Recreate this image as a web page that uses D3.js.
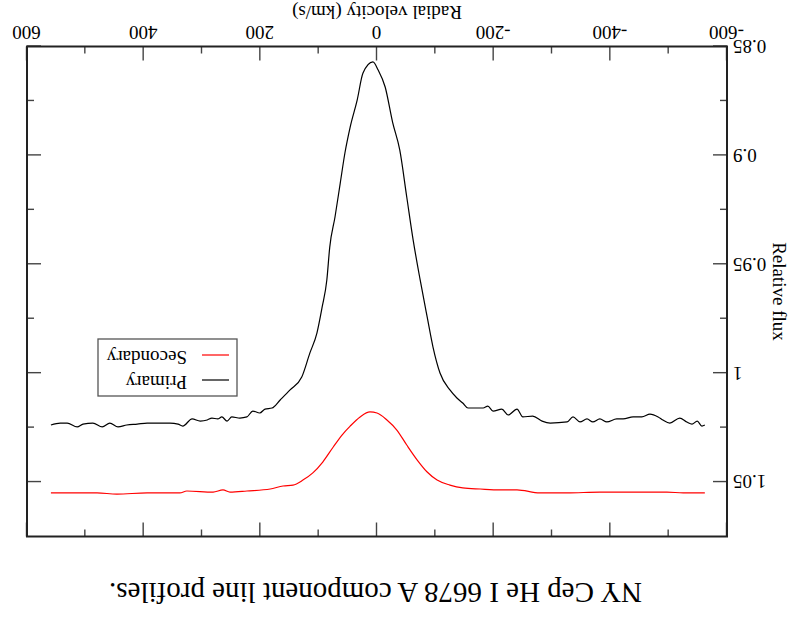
<!DOCTYPE html>
<html>
<head>
<meta charset="utf-8">
<script src="https://cdn.jsdelivr.net/npm/d3@7"></script>
<style>
html,body{margin:0;padding:0;background:#fff;}
svg{display:block;}
text{font-family:"Liberation Serif","Times New Roman",serif;fill:#000;}
</style>
</head>
<body>
<svg id="chart" width="789" height="617"></svg>
<script>
// ---- data (velocity km/s, relative flux) ----
const primaryVel = [559,543,531,514,504,487,471,458,444,429,411,394,377,355,341,333,317,303,291,283,273,266,257,249,235,223,213,201,192,180,166,149,129,115,103,94,86,81,72,63,55,46,34,24,7,-2,-14,-27,-39,-51,-62,-74,-86,-96,-108,-125,-137,-147,-156,-182,-190,-199,-214,-225,-240,-250,-267,-283,-297,-326,-336,-348,-360,-370,-382,-394,-411,-422,-439,-454,-468,-482,-490,-502,-519,-531,-540,-549,-557,-562];
const primaryFlux = [1.0238,1.0229,1.0229,1.0247,1.0234,1.0229,1.0247,1.0229,1.0247,1.0238,1.0234,1.0229,1.0229,1.0229,1.0234,1.0243,1.0210,1.0220,1.0215,1.0206,1.0210,1.0201,1.0220,1.0201,1.0206,1.0201,1.0174,1.0183,1.0165,1.0160,1.0123,1.0077,1.0018,0.9907,0.9816,0.9696,0.9572,0.9421,0.9283,0.9127,0.8989,0.8870,0.8746,0.8622,0.8571,0.8608,0.8686,0.8851,0.8975,0.9191,0.9389,0.9572,0.9742,0.9880,0.9999,1.0077,1.0114,1.0137,1.0160,1.0160,1.0151,1.0174,1.0165,1.0192,1.0165,1.0201,1.0197,1.0220,1.0229,1.0224,1.0201,1.0224,1.0210,1.0224,1.0210,1.0224,1.0210,1.0210,1.0201,1.0201,1.0188,1.0201,1.0215,1.0229,1.0206,1.0224,1.0234,1.0220,1.0243,1.0238];
const secondaryVel = [559,538,509,480,446,394,338,326,281,264,252,223,183,161,144,127,110,93,75,60,46,29,12,0,-17,-34,-51,-69,-86,-103,-125,-147,-177,-211,-240,-279,-326,-382,-439,-497,-525,-562];
const secondaryFlux = [1.0550,1.0550,1.0550,1.0550,1.0555,1.0550,1.0550,1.0541,1.0546,1.0536,1.0546,1.0541,1.0532,1.0518,1.0514,1.0491,1.0458,1.0408,1.0339,1.0284,1.0243,1.0201,1.0178,1.0183,1.0215,1.0261,1.0330,1.0399,1.0454,1.0491,1.0514,1.0527,1.0532,1.0536,1.0536,1.0550,1.0550,1.0546,1.0546,1.0546,1.0550,1.0550];
const xMajorTicks = [-600,-400,-200,0,200,400,600];
const xMinorTicks = [-500,-300,-100,100,300,500];
const yMajorTicks = [0.85,0.9,0.95,1,1.05];
const yMinorTicks = [0.875,0.925,0.975,1.025];
const seriesNames = ["Primary","Secondary"];
const seriesColors = ["#000000","#ff0000"];
const titleText = "NY Cep He I 6678 A component line profiles.";
const xLabel = "Radial velocity (km/s)";
const yLabel = "Relative flux";

// ---- layout (drawn upright, then whole figure turned 180 degrees) ----
const W = 789, H = 617;
const L = 62, R = 762, T = 80.5, B = 570.5;
const svg = d3.select("#chart");
const g = svg.append("g").attr("transform", `rotate(180 ${W/2} ${H/2})`);

const x = d3.scaleLinear().domain([-600,600]).range([L,R]);
const y = d3.scaleLinear().domain([0.85,1.075]).range([B,T]);

function styleAxis(sel){
  sel.select(".domain").remove();
  sel.selectAll(".tick line").attr("stroke","#444").attr("stroke-width",1.4);
  sel.selectAll(".tick text").style("font-family",'"Liberation Serif",serif').style("font-size","19px").attr("fill","#000");
}
const fmtX = d => String(d);
const fmtY = d => String(d);

// bottom (labels)
g.append("g").attr("transform",`translate(0,${B})`)
  .call(d3.axisBottom(x).tickValues(xMajorTicks).tickSize(-14).tickPadding(7).tickFormat(fmtX)).call(styleAxis);
g.append("g").attr("transform",`translate(0,${B})`)
  .call(d3.axisBottom(x).tickValues(xMinorTicks).tickSize(-7).tickFormat("")).call(styleAxis);
// top mirror
g.append("g").attr("transform",`translate(0,${T})`)
  .call(d3.axisTop(x).tickValues(xMajorTicks).tickSize(-14).tickFormat("")).call(styleAxis);
g.append("g").attr("transform",`translate(0,${T})`)
  .call(d3.axisTop(x).tickValues(xMinorTicks).tickSize(-7).tickFormat("")).call(styleAxis);
// left (labels)
g.append("g").attr("transform",`translate(${L},0)`)
  .call(d3.axisLeft(y).tickValues(yMajorTicks).tickSize(-14).tickPadding(6).tickFormat(fmtY)).call(styleAxis);
g.append("g").attr("transform",`translate(${L},0)`)
  .call(d3.axisLeft(y).tickValues(yMinorTicks).tickSize(-7).tickFormat("")).call(styleAxis);
// right mirror
g.append("g").attr("transform",`translate(${R},0)`)
  .call(d3.axisRight(y).tickValues(yMajorTicks).tickSize(-14).tickFormat("")).call(styleAxis);
g.append("g").attr("transform",`translate(${R},0)`)
  .call(d3.axisRight(y).tickValues(yMinorTicks).tickSize(-7).tickFormat("")).call(styleAxis);

// frame
g.append("rect").attr("x",L).attr("y",T).attr("width",R-L).attr("height",B-T)
  .attr("fill","none").attr("stroke","#222").attr("stroke-width",2);

// lines
const line = d3.line().x(d=>x(d[0])).y(d=>y(d[1])).curve(d3.curveMonotoneX);
const prim = primaryVel.map((v,i)=>[v,primaryFlux[i]]).sort((a,b)=>a[0]-b[0]);
const sec = secondaryVel.map((v,i)=>[v,secondaryFlux[i]]).sort((a,b)=>a[0]-b[0]);
g.append("path").datum(prim).attr("d",line).attr("fill","none").attr("stroke",seriesColors[0]).attr("stroke-width",1.2);
g.append("path").datum(sec).attr("d",line).attr("fill","none").attr("stroke",seriesColors[1]).attr("stroke-width",1.2);

// legend
const lg = g.append("g");
lg.append("rect").attr("x",552).attr("y",221).attr("width",139).attr("height",57)
  .attr("fill","#fff").attr("stroke","#555").attr("stroke-width",1.3);
const legY = [237, 262];
const legTextY = [241, 266];
seriesNames.forEach((n,i)=>{
  lg.append("line").attr("x1",560).attr("x2",587).attr("y1",legY[i]).attr("y2",legY[i])
    .attr("stroke",seriesColors[i]).attr("stroke-width",1.2);
  lg.append("text").attr("x",602).attr("y",legTextY[i]).style("font-size","19px").text(n);
});

// axis labels and title
g.append("text").attr("x",(L+R)/2).attr("y",611).attr("text-anchor","middle").style("font-size","19px").text(xLabel);
g.append("text").attr("transform",`translate(16,${(T+B)/2}) rotate(-90)`).attr("text-anchor","middle").style("font-size","19px").text(yLabel);
g.append("text").attr("x",413.5).attr("y",34).attr("text-anchor","middle").style("font-size","29px").text(titleText);
</script>
</body>
</html>
